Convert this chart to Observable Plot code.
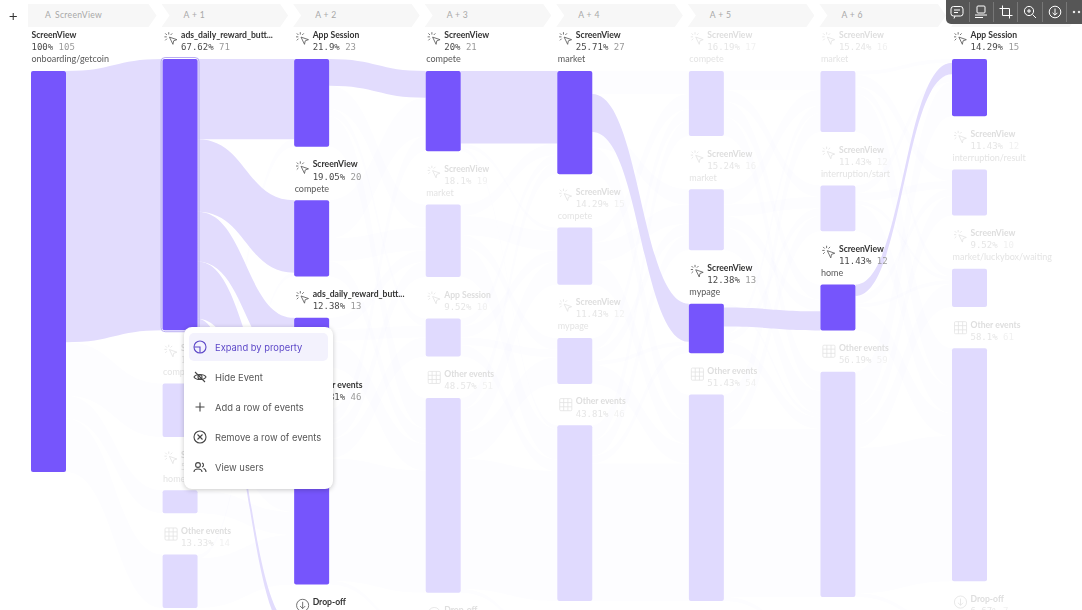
<!DOCTYPE html>
<html>
<head>
<meta charset="utf-8">
<script src="https://cdn.jsdelivr.net/npm/d3@7"></script>
<script src="https://cdn.jsdelivr.net/npm/@observablehq/plot@0.6"></script>
<style>
html,body{margin:0;padding:0;background:#fff;overflow:hidden}
#root{position:relative;width:1082px;height:610px;overflow:hidden;filter:blur(.4px)}
#chart svg{display:block}
.chev{position:absolute;top:4px;height:23px;background:#f7f7f7;font:8.6px Lato,sans-serif;color:#a8a8a8;line-height:23px;white-space:nowrap;letter-spacing:.3px}
#plus{position:absolute;left:8px;top:6px;font:300 16px/18px Inter,sans-serif;color:#333}
#menu{position:absolute;left:184px;top:327px;width:149px;height:162px;background:#fff;border-radius:8px;box-shadow:0 1px 5px rgba(0,0,0,.22)}
.item{position:absolute;left:5px;width:139px;height:28px;font:9.4px/28px Inter,sans-serif;color:#565656;border-radius:5px}
.item span{position:absolute;left:26px;white-space:nowrap}
.item svg{position:absolute;left:4px;top:7px}
.item.on{background:#f3f2fd;color:#5d48c8}
#tools{position:absolute;left:946px;top:0;width:136px;height:24px;background:#565656;border-radius:0 0 0 5px}
#tools svg{position:absolute;top:5px}
#tools i{position:absolute;top:2px;width:1px;height:20px;background:#777}
</style>
</head>
<body>
<div id="root">
  <div id="chart"></div>
  <div id="header"></div>
  <div id="plus">+</div>
  <div id="menu"></div>
  <div id="tools"></div>
</div>
<script>
// ---------- data ----------
const stepLabels = ["ScreenView", "A + 1", "A + 2", "A + 3", "A + 4", "A + 5", "A + 6", "A + 7"];
const eventNames = [
  ["ScreenView"],
  ["ads_daily_reward_butt...", "ScreenView", "ScreenView", "Other events"],
  ["App Session", "ScreenView", "ads_daily_reward_butt...", "Other events", "Drop-off"],
  ["ScreenView", "ScreenView", "App Session", "Other events", "Drop-off"],
  ["ScreenView", "ScreenView", "ScreenView", "Other events", "Drop-off"],
  ["ScreenView", "ScreenView", "ScreenView", "Other events", "Drop-off"],
  ["ScreenView", "ScreenView", "ScreenView", "Other events", "Drop-off"],
  ["App Session", "ScreenView", "ScreenView", "Other events", "Drop-off"]
];
const properties = [
  ["onboarding/getcoin"],
  ["", "compete", "home", ""],
  ["", "compete", "", "", ""],
  ["compete", "market", "", "", ""],
  ["market", "compete", "mypage", "", ""],
  ["compete", "market", "mypage", "", ""],
  ["market", "interruption/start", "home", "", ""],
  ["", "interruption/result", "market/luckybox/waiting", "", ""]
];
const percents = [
  ["100%"],
  ["67.62%", "13.33%", "5.71%", "13.33%"],
  ["21.9%", "19.05%", "12.38%", "43.81%", "2.86%"],
  ["20%", "18.1%", "9.52%", "48.57%", "3.81%"],
  ["25.71%", "14.29%", "11.43%", "43.81%", "4.76%"],
  ["16.19%", "15.24%", "12.38%", "51.43%", "4.76%"],
  ["15.24%", "11.43%", "11.43%", "56.19%", "5.71%"],
  ["14.29%", "11.43%", "9.52%", "58.1%", "6.67%"]
];
const counts = [
  [105],
  [71, 14, 6, 14],
  [23, 20, 13, 46, 3],
  [21, 19, 10, 51, 4],
  [27, 15, 12, 46, 5],
  [17, 16, 13, 54, 5],
  [16, 12, 12, 59, 6],
  [15, 12, 10, 61, 7]
];
// the highlighted node in each column
const activeNode = [0, 0, null, 0, 0, 2, 2, 0];
const alsoActive = [[2, 0], [2, 1], [2, 2], [2, 3], [2, 4]];
// flows between neighbouring columns: [column, from, to, users]
const flows0 = [[0,0,0,71],[0,0,1,14],[0,0,2,6],[0,0,3,14]];
const flows1 = [[1,0,0,21],[1,0,1,19],[1,0,2,13],[1,0,3,15],[1,0,4,3],[1,1,0,2],[1,1,3,12],[1,2,3,6],[1,3,1,1],[1,3,3,13]];
const flows2 = [[2,0,0,7],[2,0,1,6],[2,0,2,2],[2,0,3,8],[2,1,0,10],[2,1,1,6],[2,1,3,4],[2,2,1,3],[2,2,2,3],[2,2,3,7],[2,3,0,4],[2,3,1,4],[2,3,2,5],[2,3,3,32],[2,3,4,1]];
const flows3 = [[3,0,0,19],[3,0,1,1],[3,0,3,1],[3,1,0,3],[3,1,1,5],[3,1,2,3],[3,1,3,8],[3,2,0,2],[3,2,1,3],[3,2,2,2],[3,2,3,3],[3,3,0,3],[3,3,1,6],[3,3,2,7],[3,3,3,34],[3,3,4,1]];
const flows4 = [[4,0,0,6],[4,0,2,10],[4,0,1,4],[4,0,3,7],[4,1,0,4],[4,1,1,5],[4,1,3,6],[4,2,0,3],[4,2,1,3],[4,2,2,1],[4,2,3,5],[4,3,0,4],[4,3,1,4],[4,3,2,2],[4,3,3,36]];
const flows5 = [[5,0,0,5],[5,0,1,3],[5,0,2,4],[5,0,3,5],[5,1,0,4],[5,1,1,3],[5,1,2,3],[5,1,3,6],[5,2,3,1],[5,2,2,5],[5,2,0,2],[5,2,1,2],[5,2,3,3],[5,3,0,5],[5,3,1,4],[5,3,3,44],[5,3,4,1]];
const flows6 = [[6,0,0,1],[6,2,0,3],[6,0,1,3],[6,0,2,2],[6,0,3,10],[6,1,0,2],[6,1,1,2],[6,1,2,1],[6,1,3,7],[6,2,1,2],[6,2,2,1],[6,2,3,6],[6,3,0,9],[6,3,1,5],[6,3,2,6],[6,3,3,38],[6,3,4,1]];
// highlighted flows, as "column:from:to"
const activeFlows = ["0:0:0","1:0:0","1:0:1","1:0:2","1:0:3","1:0:4","2:0:0","3:0:0","4:0:2","5:2:2","6:2:0"];

// ---------- layout helpers ----------
const pxPerUser = 3.82, pxPerStep = (952 - 31) / 7, barPx = 35;
const ux = p => p / pxPerStep, uy = p => p / pxPerUser;
const purple = "#7655fc", pale = "#e0dafe";
const isActive = (c, i) => activeNode[c] === i || alsoActive.some(([a, b]) => a === c && b === i);

const nodes = [];
eventNames.forEach((names, c) => {
  let y = uy(59);
  names.forEach((name, i) => {
    const prop = properties[c][i];
    if (prop) y += uy(12);
    nodes.push({c, i, name, prop, pct: percents[c][i], n: counts[c][i], y0: y, y1: y + counts[c][i], on: isActive(c, i), out: 0, inn: 0});
    y += counts[c][i] + uy(41.3);
  });
});
const nodeAt = (c, i) => nodes.find(d => d.c === c && d.i === i);

const ribbons = [];
[...flows0, ...flows1, ...flows2, ...flows3, ...flows4, ...flows5, ...flows6].forEach(([c, a, b, n], k) => {
  const s = nodeAt(c, a), t = nodeAt(c + 1, b);
  const on = activeFlows.includes(`${c}:${a}:${b}`);
  ribbons.push({id: k, on, x: c + ux(barPx), a: s.y0 + s.out, b: s.y0 + s.out + n});
  ribbons.push({id: k, on, x: c + 1, a: t.y0 + t.inn, b: t.y0 + t.inn + n});
  s.out += n; t.inn += n;
});

const textRows = [];
const icons = [];
const charPx = 5.42;
nodes.forEach(d => {
  const left = d.c + ux(d.c === 0 ? 0 : 18);
  const lines = d.prop ? 3 : 2;
  const top = d.y0 - uy(12 * lines);
  textRows.push({x: left, y: top, text: d.name, kind: "name", on: d.on});
  textRows.push({x: left, y: top + uy(12), text: d.pct, kind: "pct", on: d.on});
  textRows.push({x: left + ux((d.pct.length + 1) * charPx), y: top + uy(12), text: String(d.n), kind: "count", on: d.on});
  if (d.prop) textRows.push({x: d.c, y: top + uy(24), text: d.prop, kind: "prop", on: d.on});
  if (d.c > 0) icons.push({x: d.c + ux(8), y: top + uy(3), name: d.name, on: d.on});
});

const nameColor = {name: ["#333333", "#dedede"], pct: ["#4a4a4a", "#e6e6e6"], count: ["#9a9a9a", "#f1f1f1"], prop: ["#5a5a5a", "#e4e4e4"]};
const svgUri = s => "data:image/svg+xml," + encodeURIComponent(`<svg xmlns="http://www.w3.org/2000/svg" viewBox="0 0 12 12" fill="none" stroke="#555" stroke-width=".7">${s}</svg>`);
const cursorIcon = svgUri('<path d="M4.6 4.8 L11 7 L8.2 8 L7.6 11 Z"/><path d="M4 .6V2.6M1 1.6 2.4 3M.3 4.6H2.3M1 7.6 2.4 6.2M7 1.6 5.6 3"/>');
const gridIcon = svgUri('<rect x=".8" y=".8" width="10.4" height="10.4" rx="1"/><path d="M4.2 .8V11.2M7.8 .8V11.2M.8 4.2H11.2M.8 7.8H11.2"/>');
const dropIcon = svgUri('<circle cx="6" cy="6" r="5.2"/><path d="M6 3V8.6M3.8 6.6 6 8.8 8.2 6.6"/>');
const iconFor = n => n === "Other events" ? gridIcon : n === "Drop-off" ? dropIcon : cursorIcon;

const iconMarks = [cursorIcon, gridIcon, dropIcon].flatMap(src => [true, false].map(on =>
  Plot.image(icons.filter(d => d.on === on && iconFor(d.name) === src), {x: "x", y: "y", src, width: 14, height: 14, opacity: on ? 1 : 0.16})
));
const textMark = (kind, font) => Plot.text(textRows.filter(d => d.kind === kind), {
  x: "x", y: "y", text: "text", textAnchor: "start",
  fill: d => nameColor[kind][d.on ? 0 : 1], ...font
});

const plot = Plot.plot({
  width: 1082, height: 610, margin: 0,
  x: {domain: [0, 7], range: [31, 952], axis: null},
  y: {domain: [0, uy(610)], range: [0, 610], axis: null},
  marks: [
    Plot.area(ribbons.filter(d => !d.on), {x1: "x", y1: "a", y2: "b", z: "id", curve: "bump-x", fill: purple, fillOpacity: 0.01}),
    Plot.area(ribbons.filter(d => d.on), {x1: "x", y1: "a", y2: "b", z: "id", curve: "bump-x", fill: "#e2dcfd"}),
    Plot.rect(nodes.filter(d => d.c === 1 && d.i === 0), {x1: "c", x2: d => d.c + ux(barPx), y1: "y0", y2: "y1", inset: -1.5, rx: 4, fill: "none", stroke: "#b9adf2", strokeWidth: 1}),
    Plot.rect(nodes, {x1: "c", x2: d => d.c + ux(barPx), y1: "y0", y2: "y1", rx: 2, fill: d => d.on ? purple : pale}),
    ...iconMarks,
    textMark("name", {fontFamily: "Lato, sans-serif", fontWeight: 700, fontSize: 8.6}),
    textMark("pct", {fontFamily: "'DejaVu Sans Mono', monospace", fontSize: 9}),
    textMark("count", {fontFamily: "'DejaVu Sans Mono', monospace", fontSize: 9}),
    textMark("prop", {fontFamily: "Lato, sans-serif", fontSize: 9})
  ]
});
document.getElementById("chart").append(plot);

// ---------- page furniture ----------
const header = document.getElementById("header");
stepLabels.forEach((label, c) => {
  const el = document.createElement("div");
  el.className = "chev";
  const left = c === 0 ? 28 : 31 + c * pxPerStep - 1;
  const right = 31 + (c + 1) * pxPerStep - 6;
  el.style.left = left + "px";
  el.style.width = (right - left) + "px";
  el.style.clipPath = c === 0
    ? "polygon(0 0,calc(100% - 8px) 0,100% 50%,calc(100% - 8px) 100%,0 100%)"
    : "polygon(0 0,calc(100% - 8px) 0,100% 50%,calc(100% - 8px) 100%,0 100%,8px 50%)";
  el.innerHTML = c === 0
    ? `<span style="position:absolute;left:17px">A</span><span style="position:absolute;left:27px">${label}</span>`
    : `<span style="position:absolute;left:22px">${label}</span>`;
  header.append(el);
});

const menuIcons = {
  expand: '<circle cx="7" cy="7" r="6"/><path d="M7 13V7H1.2"/>',
  hide: '<path d="M1 7C3 3.6 11 3.6 13 7C11 10.4 3 10.4 1 7Z"/><circle cx="7" cy="7" r="2"/><path d="M2 2 12 12"/>',
  add: '<path d="M7 2.5V11.5M2.5 7H11.5"/>',
  remove: '<circle cx="7" cy="7" r="6"/><path d="M4.5 4.5 9.5 9.5M9.5 4.5 4.5 9.5"/>',
  users: '<circle cx="5" cy="5" r="2.4"/><path d="M1 12C1 8 9 8 9 12M9 3C11 3.5 11 6.5 9 7M10.5 8.5C12 9 13 10.5 13 12"/>'
};
const menuItems = [["Expand by property", "expand"], ["Hide Event", "hide"], ["Add a row of events", "add"], ["Remove a row of events", "remove"], ["View users", "users"]];
const menu = document.getElementById("menu");
menuItems.forEach(([label, ic], k) => {
  const el = document.createElement("div");
  el.className = "item" + (k === 0 ? " on" : "");
  el.style.top = (6 + k * 30) + "px";
  const col = k === 0 ? "#5d48c8" : "#444";
  el.innerHTML = `<svg width="14" height="14" viewBox="0 0 14 14" fill="none" stroke="${col}" stroke-width="1.1">${menuIcons[ic]}</svg><span style="top:1px">${label}</span>`;
  menu.append(el);
});

const toolIcons = [
  '<rect x="1" y="1.5" width="12" height="9.5" rx="2.5"/><path d="M4 5H10M4 7.5H8M5 11 4 13.5"/>',
  '<rect x="3" y="1" width="8" height="7" rx="1"/><path d="M1 10H13M1 12.5H9"/>',
  '<path d="M3.5 0.5V10.5H13.5M0.5 3.5H10.5V13.5"/>',
  '<circle cx="6" cy="6" r="4.6"/><path d="M9.5 9.5 13 13M6 4V8M4 6H8"/>',
  '<circle cx="7" cy="7" r="5.8"/><path d="M7 3.5V10M4.6 7.8 7 10.2 9.4 7.8"/>',
  '<circle cx="2" cy="7" r=".8" fill="#fff"/><circle cx="7" cy="7" r=".8" fill="#fff"/>'
];
const tools = document.getElementById("tools");
toolIcons.forEach((s, k) => {
  const svg = `<svg width="14" height="14" viewBox="0 0 14 14" fill="none" stroke="#fff" stroke-width="1" style="left:${4 + k * 24.4}px">${s}</svg>`;
  tools.insertAdjacentHTML("beforeend", svg);
  if (k < 5) tools.insertAdjacentHTML("beforeend", `<i style="left:${22.5 + k * 24.4}px"></i>`);
});
</script>
</body>
</html>
